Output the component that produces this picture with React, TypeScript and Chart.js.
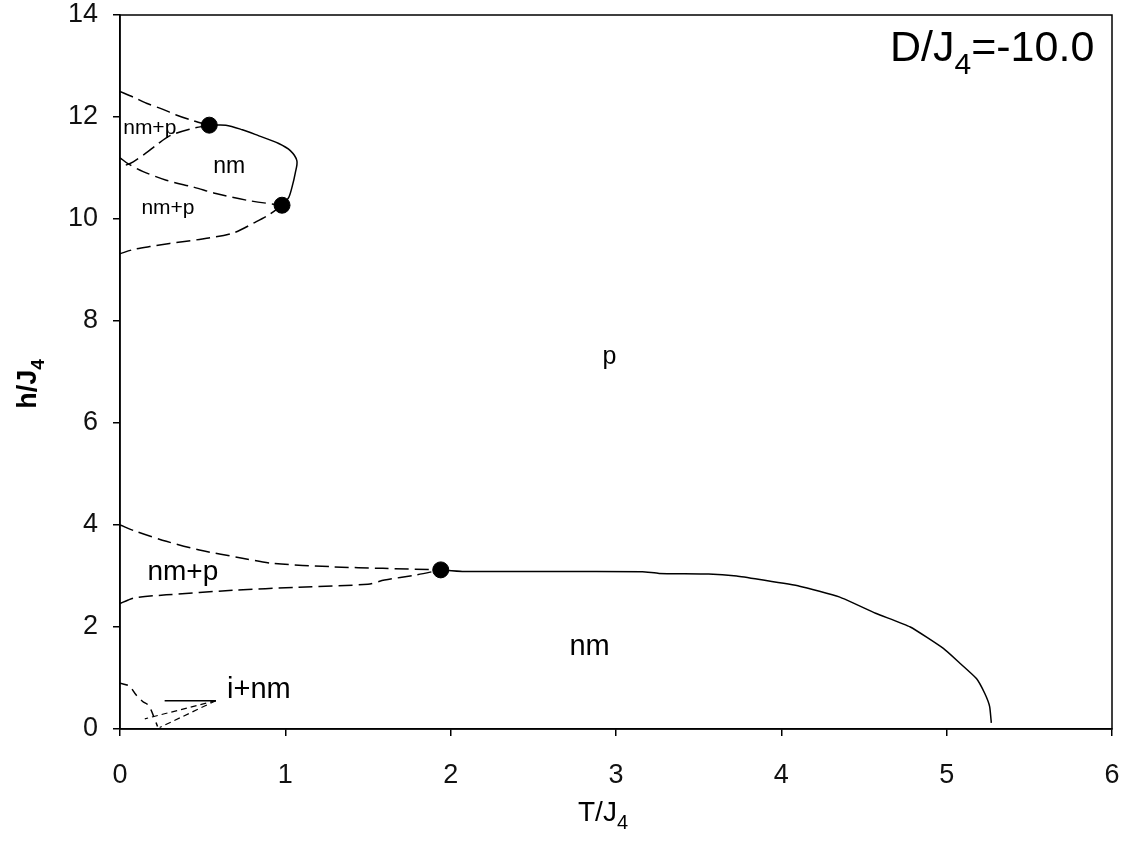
import React, { useEffect, useRef } from 'react';
import { Chart, registerables } from 'chart.js';

Chart.register(...registerables);

type P = [number, number];

// axis ticks
const xTickValues: number[] = [0, 1, 2, 3, 4, 5, 6];
const yTickValues: number[] = [0, 2, 4, 6, 8, 10, 12, 14];

// upper re-entrant region (h ~ 9-12.5)
const upperNmpTop: P[] = [[0, 12.5], [0.08, 12.39], [0.16, 12.27], [0.26, 12.15], [0.34, 12.04], [0.44, 11.93], [0.54, 11.84]];
const upperNmpBottom: P[] = [[0.54, 11.84], [0.42, 11.76], [0.3, 11.63], [0.22, 11.45], [0.16, 11.3], [0.08, 11.12], [0.03, 11.05], [0, 11.03]];
const middleNmpTop: P[] = [[0, 11.2], [0.05, 11.08], [0.14, 10.93], [0.28, 10.76], [0.45, 10.62], [0.58, 10.5], [0.78, 10.36], [0.98, 10.27]];
const middleNmpBottom: P[] = [[0.98, 10.27], [0.9, 10.08], [0.82, 9.94], [0.68, 9.72], [0.48, 9.6], [0.3, 9.52], [0.18, 9.46], [0.08, 9.4], [0, 9.32]];
const upperNmBoundary: P[] = [[0.54, 11.84], [0.64, 11.84], [0.74, 11.75], [0.84, 11.63], [0.96, 11.48], [1.03, 11.34], [1.07, 11.14], [1.06, 10.9], [1.04, 10.62], [1.02, 10.42], [0.98, 10.27]];

// lower region (h ~ 2.4-4)
const lowerNmpTop: P[] = [[0, 4.0], [0.1, 3.87], [0.28, 3.68], [0.48, 3.51], [0.74, 3.35], [0.92, 3.25], [1.29, 3.18], [1.59, 3.15], [1.94, 3.12]];
const lowerNmpBottom: P[] = [[0, 2.46], [0.05, 2.53], [0.1, 2.58], [0.28, 2.63], [0.68, 2.72], [1.08, 2.78], [1.5, 2.84], [1.6, 2.92], [1.79, 3.02], [1.94, 3.12]];
const nmParaBoundary: P[] = [[1.94, 3.12], [2.07, 3.09], [2.6, 3.088], [3.16, 3.085], [3.26, 3.05], [3.56, 3.04], [3.73, 3.0], [3.87, 2.93], [4.11, 2.8], [4.35, 2.59], [4.57, 2.27], [4.78, 2.0], [4.98, 1.58], [5.08, 1.29], [5.18, 0.99], [5.23, 0.7], [5.26, 0.44], [5.27, 0.12]];

// bottom-left i+nm region and pointer lines
const iNmBoundary: P[] = [[0, 0.9], [0.057, 0.84], [0.097, 0.67], [0.137, 0.54], [0.167, 0.48], [0.187, 0.38], [0.203, 0.25], [0.227, 0.05]];
const pointerSolid: P[] = [[0.27, 0.555], [0.58, 0.555]];
const pointerDashA: P[] = [[0.58, 0.555], [0.15, 0.2]];
const pointerDashB: P[] = [[0.58, 0.555], [0.24, 0.03]];

// critical end points
const criticalPoints: P[] = [[0.54, 11.84], [0.98, 10.27], [1.94, 3.12]];

// region labels (data coordinates, centre)
const labelTexts: string[] = ['nm+p', 'nm', 'nm+p', 'p', 'nm+p', 'nm', 'i+nm'];
const labelX: number[] = [0.18, 0.66, 0.29, 2.96, 0.38, 2.84, 0.84];
const labelY: number[] = [11.78, 11.02, 10.21, 7.29, 3.08, 1.61, 0.77];

const labelSizes = [21, 23, 21, 25, 28, 29, 29];

const toXY = (pts: P[]) => pts.map(([x, y]) => ({ x, y }));

const FONT = "'Liberation Sans', Arial, sans-serif";

function drawSubText(
  ctx: CanvasRenderingContext2D,
  main: string,
  sub: string,
  x: number,
  y: number,
  size: number,
  weight: string,
  align: 'left' | 'center'
) {
  ctx.font = `${weight} ${size}px ${FONT}`;
  const wMain = ctx.measureText(main).width;
  const subSize = Math.round(size * 0.7);
  ctx.font = `${weight} ${subSize}px ${FONT}`;
  const wSub = ctx.measureText(sub).width;
  const total = wMain + wSub;
  const startX = align === 'center' ? x - total / 2 : x;
  ctx.textAlign = 'left';
  ctx.textBaseline = 'alphabetic';
  ctx.font = `${weight} ${size}px ${FONT}`;
  ctx.fillText(main, startX, y);
  ctx.font = `${weight} ${subSize}px ${FONT}`;
  ctx.fillText(sub, startX + wMain, y + size * 0.3);
  return startX + total;
}

const annotationPlugin = {
  id: 'phaseAnnotations',
  afterDraw(chart: any) {
    const { ctx, chartArea, scales } = chart;
    const xs = scales.x;
    const ys = scales.y;
    ctx.save();
    // frame
    ctx.strokeStyle = '#000';
    ctx.lineWidth = 1.5;
    ctx.strokeRect(chartArea.left, chartArea.top, chartArea.right - chartArea.left, chartArea.bottom - chartArea.top);

    ctx.fillStyle = '#000';
    // region labels
    labelTexts.forEach((t, i) => {
      ctx.font = `${labelSizes[i]}px ${FONT}`;
      ctx.textAlign = 'center';
      ctx.textBaseline = 'middle';
      ctx.fillText(t, xs.getPixelForValue(labelX[i]), ys.getPixelForValue(labelY[i]));
    });

    // D/J4 annotation
    const after = drawSubText(ctx, 'D/J', '4', 890, 61, 43, 'normal', 'left');
    ctx.font = `43px ${FONT}`;
    ctx.textAlign = 'left';
    ctx.fillText('=-10.0', after, 61);

    // x title
    drawSubText(ctx, 'T/J', '4', 603, 821, 28, 'normal', 'center');

    // y title
    ctx.save();
    ctx.translate(36, 384);
    ctx.rotate(-Math.PI / 2);
    drawSubText(ctx, 'h/J', '4', 0, 0, 27, 'bold', 'center');
    ctx.restore();

    ctx.restore();
  },
};

const lineDs = (pts: P[], dashed: boolean, width = 1.5, dash: number[] = [14, 6], tension = 0.3) => ({
  data: toXY(pts),
  showLine: true,
  borderColor: '#000',
  backgroundColor: '#000',
  borderWidth: width,
  borderDash: dashed ? dash : [],
  pointRadius: 0,
  pointHoverRadius: 0,
  tension,
  fill: false,
});

const zeroPad = (s: any) => {
  s.paddingTop = 0;
  s.paddingBottom = 0;
  s.paddingLeft = 0;
  s.paddingRight = 0;
};

export default function App() {
  const ref = useRef<HTMLCanvasElement>(null);
  useEffect(() => {
    document.body.style.margin = '0';
    if (!ref.current) return;
    const chart = new Chart(ref.current, {
      type: 'scatter',
      data: {
        datasets: [
          lineDs(upperNmpTop, true),
          lineDs(upperNmpBottom, true),
          lineDs(middleNmpTop, true),
          lineDs(middleNmpBottom, true),
          lineDs(upperNmBoundary, false),
          lineDs(lowerNmpTop, true),
          lineDs(lowerNmpBottom, true),
          lineDs(nmParaBoundary, false, 1.5, [], 0.15),
          lineDs(iNmBoundary, true, 1.5, [8, 6]),
          lineDs(pointerSolid, false, 1.5, [], 0),
          lineDs(pointerDashA, true, 1.2, [6, 4], 0),
          lineDs(pointerDashB, true, 1.2, [6, 4], 0),
          {
            data: toXY(criticalPoints),
            showLine: false,
            pointRadius: 8,
            pointHoverRadius: 8,
            pointBackgroundColor: '#000',
            pointBorderColor: '#000',
            borderColor: '#000',
            backgroundColor: '#000',
          },
        ] as any,
      },
      options: {
        responsive: false,
        animation: false,
        devicePixelRatio: 1,
        layout: { padding: { left: 0, top: 15, right: 22, bottom: 0 } },
        plugins: { legend: { display: false }, tooltip: { enabled: false }, title: { display: false } },
        scales: {
          x: {
            type: 'linear',
            min: 0,
            max: 6,
            afterFit: (s: any) => { s.height = 114; zeroPad(s); },
            afterBuildTicks: (s: any) => { s.ticks = xTickValues.map((v) => ({ value: v })); },
            grid: { display: true, drawOnChartArea: false, drawTicks: true, tickLength: 7, color: '#000', lineWidth: 1.5 },
            border: { display: true, color: '#000', width: 1.5 },
            ticks: { color: '#111', font: { family: FONT, size: 27 }, padding: 23, maxRotation: 0 },
            title: { display: false },
          },
          y: {
            type: 'linear',
            min: 0,
            max: 14,
            afterFit: (s: any) => { s.width = 120; zeroPad(s); },
            afterBuildTicks: (s: any) => { s.ticks = yTickValues.map((v) => ({ value: v })); },
            grid: { display: true, drawOnChartArea: false, drawTicks: true, tickLength: 7, color: '#000', lineWidth: 1.5 },
            border: { display: true, color: '#000', width: 1.5 },
            ticks: { color: '#111', font: { family: FONT, size: 27 }, padding: 15 },
            title: { display: false },
          },
        },
      },
      plugins: [annotationPlugin],
    } as any);
    return () => chart.destroy();
  }, []);
  return <canvas ref={ref} width={1134} height={843} style={{ display: 'block' }} />;
}
